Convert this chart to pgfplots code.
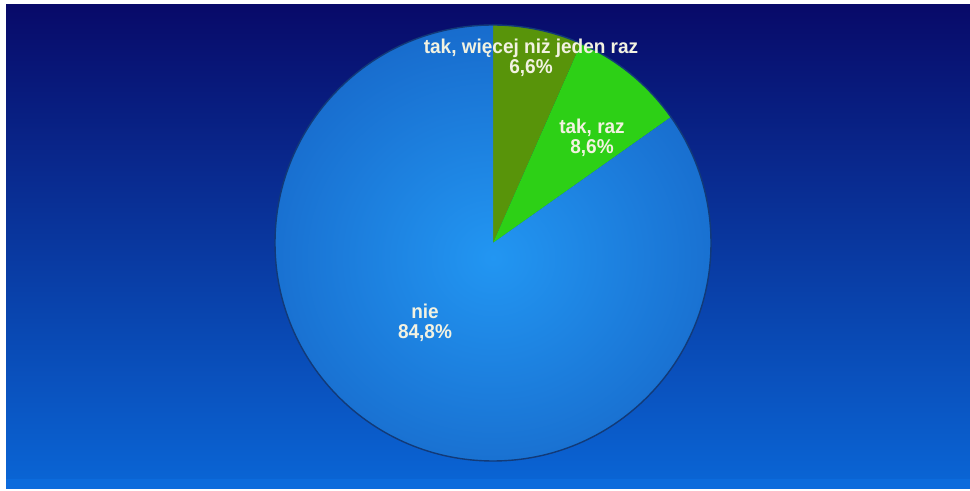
\documentclass[border=0pt]{standalone}
\usepackage{pgfplots}
\usepackage{pgfplotstable}
\usepackage{fontspec}
\setmainfont{Liberation Sans}
\newfontfamily\labelfont[FakeStretch=0.95]{Liberation Sans}
\pgfplotsset{compat=1.18}

\definecolor{bgtop}{RGB}{8,10,105}
\definecolor{bgbot}{RGB}{10,102,214}
\definecolor{bgstrip}{RGB}{12,107,220}
\definecolor{pieblueout}{RGB}{24,108,205}
\definecolor{pieblueinn}{RGB}{34,150,242}
\definecolor{piedkgreen}{RGB}{88,148,10}
\definecolor{pieltgreen}{RGB}{45,208,22}
\definecolor{pieedge}{RGB}{18,58,120}
\definecolor{labeltext}{RGB}{242,242,225}

\tikzset{
  slicedk/.style={fill=piedkgreen},
  slicelt/.style={fill=pieltgreen},
  sliceblue/.style={shading=radial, inner color=pieblueinn, outer color=pieblueout},
  pielabel/.style={labeltext, font=\labelfont\bfseries\fontsize{20}{20}\selectfont, align=center},
}

% share of answers, percent
\pgfplotstableread[col sep=comma]{
label,value,style
tak wiecej niz jeden raz,6.6,slicedk
tak raz,8.6,slicelt
nie,84.8,sliceblue
}\pietable

\begin{document}
\begin{tikzpicture}
\begin{axis}[
    hide axis,
    scale only axis,
    x=1pt, y=1pt,
    xmin=0, xmax=970,
    ymin=0, ymax=489,
    clip=false,
]
\fill[white] (axis cs:0,0) rectangle (axis cs:970,489);
\fill[top color=bgtop, bottom color=bgbot] (axis cs:6,0) rectangle (axis cs:970,484);
\fill[bgstrip] (axis cs:6,0) rectangle (axis cs:970,10);

\def\startangle{90}
\pgfplotsforeachungrouped \i in {0,...,2} {
    \pgfplotstablegetelem{\i}{value}\of\pietable
    \pgfmathsetmacro\sweep{3.6*\pgfplotsretval}
    \pgfmathsetmacro\endangle{\startangle-\sweep}
    \pgfplotstablegetelem{\i}{style}\of\pietable
    \edef\slicestyle{\pgfplotsretval}
    \edef\doslice{\noexpand\path[\slicestyle] (axis cs:493,246) -- ++(\startangle:218pt)
        arc[start angle=\startangle, end angle=\endangle, radius=218pt] -- cycle;}
    \doslice
    \global\let\startangle\endangle
}
\draw[pieedge, line width=1.4pt] (axis cs:493,246) circle[radius=218pt];

\node[pielabel] at (axis cs:531,431) {tak, więcej niż jeden raz\\6,6\%};
\node[pielabel] at (axis cs:592,351) {tak, raz\\8,6\%};
\node[pielabel] at (axis cs:425,166) {nie\\84,8\%};
\end{axis}
\end{tikzpicture}
\end{document}
